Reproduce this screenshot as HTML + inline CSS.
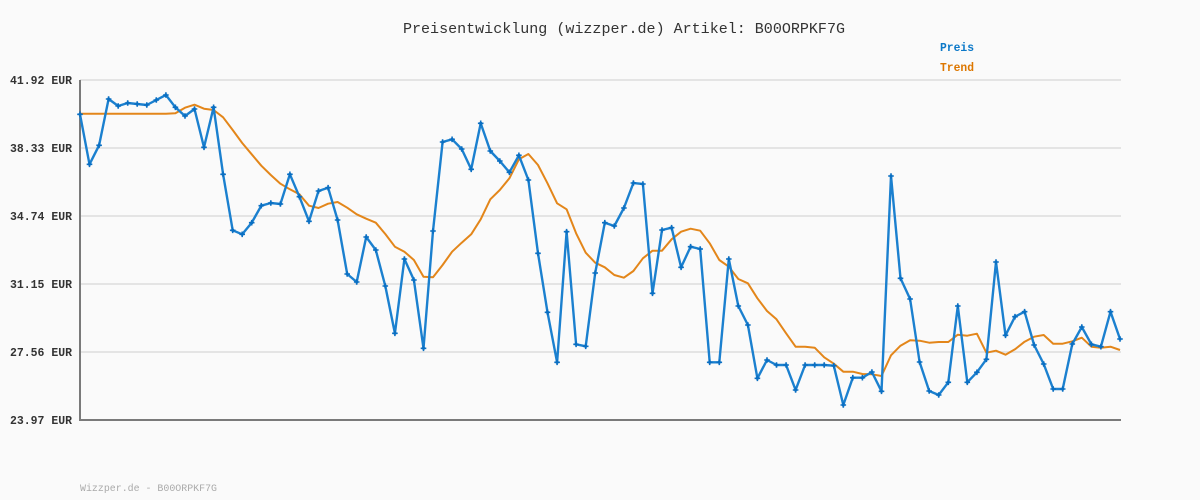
<!DOCTYPE html>
<html><head><meta charset="utf-8"><style>
html,body{margin:0;padding:0;background:#fafafa;}
svg{display:block;}
text{font-family:"Liberation Mono","DejaVu Sans Mono",monospace;}
</style></head><body>
<svg width="1200" height="500" viewBox="0 0 1200 500" xmlns="http://www.w3.org/2000/svg">
<defs>
<marker id="m" viewBox="-4 -4 8 8" markerWidth="8" markerHeight="8" markerUnits="userSpaceOnUse" refX="0" refY="0">
<path d="M-2.8,0 L2.8,0 M0,-2.8 L0,2.8" stroke="#0a6fc2" stroke-width="1.6"/>
<rect x="-1.3" y="-1.3" width="2.6" height="2.6" fill="#0a6fc2"/>
</marker>
</defs>
<rect width="1200" height="500" fill="#fafafa"/>
<text x="403" y="33" font-size="15" fill="#333" textLength="442" lengthAdjust="spacingAndGlyphs">Preisentwicklung (wizzper.de) Artikel: B00ORPKF7G</text>
<text x="940" y="51" font-size="11.5" font-weight="bold" fill="#0b78c8" textLength="34" lengthAdjust="spacingAndGlyphs">Preis</text>
<text x="940" y="71" font-size="11.5" font-weight="bold" fill="#dd7700" textLength="34" lengthAdjust="spacingAndGlyphs">Trend</text>
<g stroke="#e4e4e4" stroke-width="2">
<line x1="80" y1="80" x2="1121" y2="80"/>
<line x1="80" y1="148" x2="1121" y2="148"/>
<line x1="80" y1="216" x2="1121" y2="216"/>
<line x1="80" y1="284" x2="1121" y2="284"/>
<line x1="80" y1="352" x2="1121" y2="352"/>
</g>
<g font-size="11.5" font-weight="bold" fill="#333" text-anchor="end">
<text x="72" y="84" textLength="62" lengthAdjust="spacingAndGlyphs">41.92 EUR</text>
<text x="72" y="152" textLength="62" lengthAdjust="spacingAndGlyphs">38.33 EUR</text>
<text x="72" y="220" textLength="62" lengthAdjust="spacingAndGlyphs">34.74 EUR</text>
<text x="72" y="288" textLength="62" lengthAdjust="spacingAndGlyphs">31.15 EUR</text>
<text x="72" y="356" textLength="62" lengthAdjust="spacingAndGlyphs">27.56 EUR</text>
<text x="72" y="424" textLength="62" lengthAdjust="spacingAndGlyphs">23.97 EUR</text>
</g>
<polyline fill="none" stroke="#7a7a7a" stroke-width="2" points="80,80 80,420 1121,420"/>
<polyline fill="none" stroke="#e3861a" stroke-width="2" stroke-linejoin="round" points="80.0,113.7 89.5,113.7 99.1,113.7 108.6,113.7 118.2,113.7 127.7,113.7 137.2,113.7 146.8,113.7 156.3,113.7 165.9,113.7 175.4,113.3 185.0,107.7 194.5,104.7 204.0,108.7 213.6,110 223.1,117.3 232.7,130 242.2,143 251.7,154.3 261.3,165.7 270.8,175 280.4,183.7 289.9,189.3 299.4,194.3 309.0,205.7 318.5,208 328.1,203.7 337.6,202 347.2,207.7 356.7,214.3 366.2,218.7 375.8,222.7 385.3,234 394.9,246.7 404.4,251.7 413.9,260 423.5,276.7 433.0,277.3 442.6,265 452.1,251.7 461.7,242.7 471.2,234.3 480.7,219.3 490.3,199.3 499.8,190 509.4,178.3 518.9,159.3 528.4,154 538.0,165 547.5,183.3 557.1,203.3 566.6,209.3 576.1,233.3 585.7,252.7 595.2,262.7 604.8,267.3 614.3,275 623.9,277.7 633.4,271 642.9,258.3 652.5,250.7 662.0,250.7 671.6,239.3 681.1,231.7 690.6,228.7 700.2,230.7 709.7,243.3 719.3,260 728.8,266.7 738.3,279 747.9,283.3 757.4,298.3 767.0,311 776.5,319.3 786.1,333.3 795.6,346.7 805.1,346.7 814.7,347.7 824.2,357.3 833.8,363.7 843.3,371.7 852.8,371.7 862.4,374 871.9,374.3 881.5,376 891.0,355.3 900.5,345.7 910.1,340.3 919.6,340.7 929.2,342.7 938.7,342 948.3,342 957.8,334.7 967.3,335.7 976.9,333.7 986.4,352.7 996.0,350.7 1005.5,354.7 1015.0,349.3 1024.6,341.7 1034.1,336.7 1043.7,335 1053.2,343.7 1062.7,343.7 1072.3,341.3 1081.8,337.7 1091.4,346.7 1100.9,347.7 1110.5,346.7 1120.0,350"/>
<polyline fill="none" stroke="#1b80cf" stroke-width="2.4" stroke-linejoin="round" marker-start="url(#m)" marker-mid="url(#m)" marker-end="url(#m)" points="80.0,114.3 89.5,164.3 99.1,145.3 108.6,99 118.2,106 127.7,103 137.2,104 146.8,105 156.3,100 165.9,95 175.4,107.3 185.0,116 194.5,109 204.0,147.3 213.6,107.3 223.1,174.3 232.7,230.3 242.2,234.3 251.7,222.7 261.3,205.7 270.8,203 280.4,204 289.9,174.3 299.4,196.7 309.0,221.3 318.5,191 328.1,187.7 337.6,220 347.2,274 356.7,282 366.2,237 375.8,250 385.3,286 394.9,333.3 404.4,259 413.9,280 423.5,348.3 433.0,231 442.6,142 452.1,139.3 461.7,149 471.2,169.3 480.7,123.3 490.3,151 499.8,161 509.4,172.3 518.9,155.3 528.4,180 538.0,253.3 547.5,312.3 557.1,362.3 566.6,231.7 576.1,344.3 585.7,346.3 595.2,273 604.8,222.7 614.3,226 623.9,208 633.4,183 642.9,184 652.5,293.3 662.0,230 671.6,227.7 681.1,267.3 690.6,246.7 700.2,249 709.7,362.3 719.3,362.3 728.8,259 738.3,306 747.9,325 757.4,378.3 767.0,360 776.5,365 786.1,365 795.6,390 805.1,365 814.7,365 824.2,365 833.8,365.7 843.3,405 852.8,377.7 862.4,377.7 871.9,372 881.5,391.3 891.0,176 900.5,278.3 910.1,299 919.6,362 929.2,391 938.7,395 948.3,382.3 957.8,306 967.3,382.3 976.9,372.3 986.4,359.3 996.0,262 1005.5,335.3 1015.0,316.7 1024.6,311.7 1034.1,345 1043.7,364 1053.2,389 1062.7,389 1072.3,344 1081.8,327 1091.4,344.3 1100.9,346.7 1110.5,311.7 1120.0,339"/>
<text x="80" y="491" font-size="10" fill="#aaa" textLength="137" lengthAdjust="spacingAndGlyphs">Wizzper.de - B00ORPKF7G</text>
</svg>
</body></html>
